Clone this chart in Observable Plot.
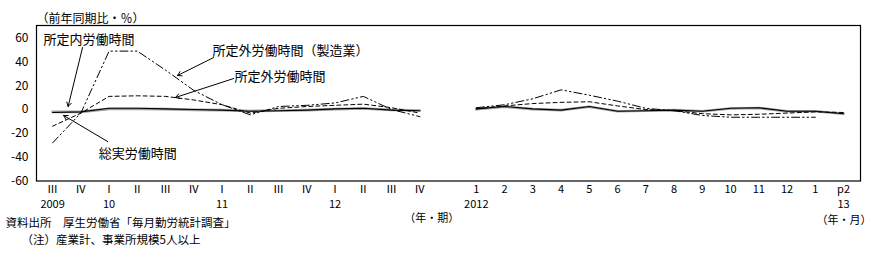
<!DOCTYPE html>
<html><head><meta charset="utf-8">
<script src="https://cdn.jsdelivr.net/npm/d3@7"></script>
<script src="https://cdn.jsdelivr.net/npm/@observablehq/plot@0.6"></script>
<style>
body{margin:0;background:#fff}
svg{font-family:"Noto Sans CJK JP","Noto Sans",sans-serif}
</style>
</head><body><div id="chart"></div>
<script>
// ---- data ----
const quarterLabels = ["Ⅲ","Ⅳ","Ⅰ","Ⅱ","Ⅲ","Ⅳ","Ⅰ","Ⅱ","Ⅲ","Ⅳ","Ⅰ","Ⅱ","Ⅲ","Ⅳ"];
const quarterYears = [{i:0,t:"2009"},{i:2,t:"10"},{i:6,t:"11"},{i:10,t:"12"}];
const monthLabels = ["1","2","3","4","5","6","7","8","9","10","11","12","1","p2"];
const monthYears = [{i:0,t:"2012"},{i:13,t:"13"}];
const yTicks = [-60,-40,-20,0,20,40,60];

const seriesNames = ["所定内労働時間","総実労働時間","所定外労働時間","所定外労働時間（製造業）"];

// quarterly (2009 III – 2012 IV)
const scheduledQ = [-2,-2,0.5,0.5,0.3,-0.3,-0.5,-1.2,-1,-0.5,0.3,0.8,-0.3,-0.8];
const totalQ     = [-2.5,-2,1,1,0.5,0,-0.5,-1.5,-1,-0.5,0.5,1,-0.5,-1];
const overtimeQ  = [-14,-3,11,11.5,11,8,4,-3,1,2.5,3.5,4.5,1.5,-3];
const mfgQ       = [-28,-3,49,49,33,16,4,-4.5,2.5,3.5,5.5,11,0,-6];

// monthly (2012/1 – 2013/2p)
const scheduledM = [0.3,2.3,0.3,-0.5,2.3,-1.5,-1,-0.5,-1.5,0.8,1.3,-1.5,-1.5,-3.5];
const totalM     = [0.5,2.5,0.5,-0.5,2.5,-1.5,-1,-0.5,-1.5,1,1.5,-1.5,-1.5,-3.5];
const overtimeM  = [0.5,3,5,6,6.5,3,0,-1,-3.5,-4.5,-4,-3,-2,-2.5];
const mfgM       = [1.5,4,9,16.5,12,7,1,-1,-5,-6.5,-6.5,-6.5,-6.5,null];

// ---- build table ----
const monthOffset = quarterLabels.length + 1; // one empty slot between panels
const periodLabels = [...quarterLabels, "", ...monthLabels];
const qSeries = [scheduledQ, totalQ, overtimeQ, mfgQ];
const mSeries = [scheduledM, totalM, overtimeM, mfgM];
const rows = [];
seriesNames.forEach((name, k) => {
  qSeries[k].forEach((v, i) => rows.push({series:name, seg:"q", x:i, y:v}));
  mSeries[k].forEach((v, i) => { if (v != null) rows.push({series:name, seg:"m", x:monthOffset+i, y:v}); });
});
const tickSlots = periodLabels.map((d,i)=>i).filter(i => periodLabels[i] !== "");
const yearTicks = [...quarterYears.map(d=>({x:d.i,t:d.t})), ...monthYears.map(d=>({x:monthOffset+d.i,t:d.t}))];
const yearMap = new Map(yearTicks.map(d=>[d.x,d.t]));
const sel = n => rows.filter(r => r.series === n);

// annotations (data coordinates)
const labels = [
  {x:-0.32, y:58.7, t:"所定内労働時間"},
  {x:5.66, y:49.5, t:"所定外労働時間（製造業）"},
  {x:6.44, y:27.5, t:"所定外労働時間"},
  {x:1.63, y:-36.9, t:"総実労働時間"}
];
const arrows = [
  {x1:1.06, y1:52, x2:0.55, y2:2.5},
  {x1:5.70, y1:43.6, x2:4.42, y2:28.5},
  {x1:6.41, y1:26, x2:4.35, y2:10.1},
  {x1:1.95, y1:-26.9, x2:0.39, y2:-5}
];

const font = 11;
const chart = Plot.plot({
  width: 875, height: 257,
  marginLeft: 36, marginRight: 15, marginTop: 25, marginBottom: 76.5,
  style: {fontFamily: '"Noto Sans CJK JP","Noto Sans",sans-serif', fontSize: font+"px", color:"#000", background:"#fff"},
  x: {type:"linear", domain:[-0.57, 28.6], axis:null},
  y: {domain:[-60, 70.5], axis:null},
  marks: [
    Plot.frame({stroke:"#000", strokeWidth:1.2}),
    Plot.axisY({ticks:yTicks, tickSize:0, tickPadding:8, label:null, fontSize:12, tickFormat: d => d < 0 ? "-" + Math.abs(d) : String(d)}),
    Plot.axisX({ticks:tickSlots, tickSize:0, tickPadding:4, label:null, fontSize:font, tickFormat: i => periodLabels[i]}),
    Plot.axisX({ticks:yearTicks.map(d=>d.x), tickSize:0, tickPadding:19, label:null, fontSize:font, tickFormat: i => yearMap.get(i)}),
    Plot.lineY(sel(seriesNames[0]), {x:"x", y:"y", z:"seg", stroke:"#a0a0a0", strokeWidth:2.6}),
    Plot.lineY(sel(seriesNames[1]), {x:"x", y:"y", z:"seg", stroke:"#000", strokeWidth:1.1}),
    Plot.lineY(sel(seriesNames[2]), {x:"x", y:"y", z:"seg", stroke:"#000", strokeWidth:1, strokeDasharray:"4,3"}),
    Plot.lineY(sel(seriesNames[3]), {x:"x", y:"y", z:"seg", stroke:"#000", strokeWidth:1, strokeDasharray:"8,3,1.5,3,1.5,3"}),
    Plot.arrow(arrows, {x1:"x1", y1:"y1", x2:"x2", y2:"y2", stroke:"#000", strokeWidth:1, headLength:7}),
    Plot.text(labels, {x:"x", y:"y", text:"t", textAnchor:"start", fontSize:13, fill:"#000"}),
    Plot.text(["（前年同期比・％）"], {frameAnchor:"top-left", dy:-11, textAnchor:"start", fontSize:12, fill:"#000"}),
    Plot.text(["（年・期）"], {x:[13.42], frameAnchor:"bottom", dy:41, fontSize:font, fill:"#000"}),
    Plot.text(["（年・月）"], {frameAnchor:"bottom-right", dx:11, dy:43, textAnchor:"end", fontSize:font, fill:"#000"}),
    Plot.text(["資料出所　厚生労働省「毎月勤労統計調査」"], {frameAnchor:"bottom-left", dx:-31, dy:46, textAnchor:"start", fontSize:11.5, fill:"#000"}),
    Plot.text(["（注）産業計、事業所規模5人以上"], {frameAnchor:"bottom-left", dx:-15, dy:63, textAnchor:"start", fontSize:11.5, fill:"#000"})
  ]
});
document.getElementById("chart").appendChild(chart);
</script>
</body></html>
